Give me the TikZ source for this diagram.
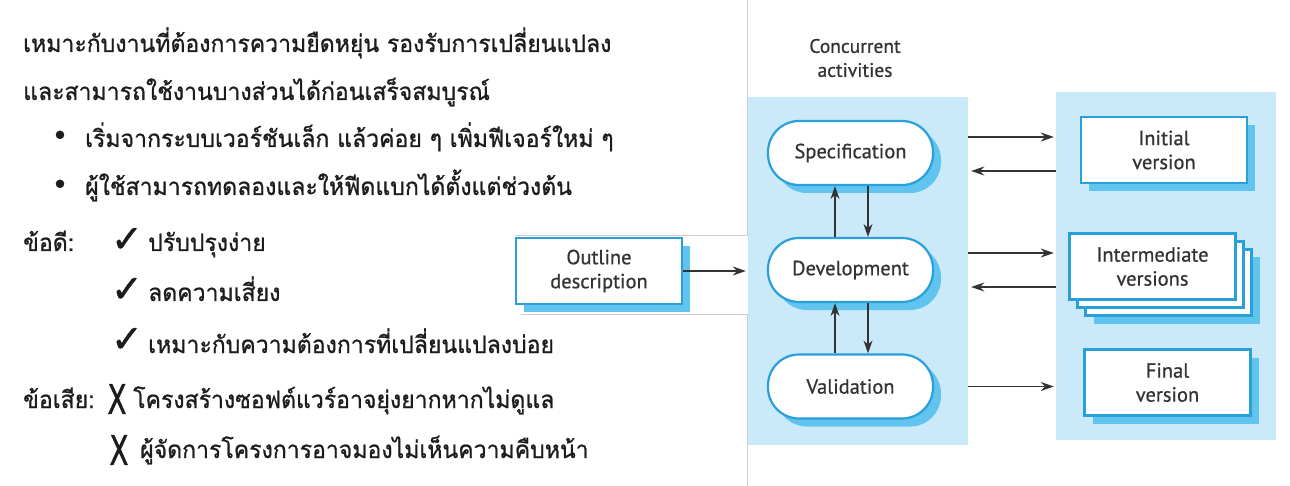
\documentclass[tikz,border=0pt]{standalone}
\usepackage{fontspec}
\usepackage{graphicx}
\setmainfont{PT Sans}[FakeBold=0.7]
\newfontfamily\thaifont[Script=Thai,FakeStretch=0.96,FakeBold=0.9]{Loma}
\newfontfamily\symfont[FakeBold=1.2]{DejaVu Sans}
\usetikzlibrary{calc}
\usetikzlibrary{arrows.meta}
\usetikzlibrary{shadows}
\definecolor{panelblue}{RGB}{202,233,249}
\definecolor{lineblue}{RGB}{41,160,218}
\definecolor{shadeblue}{RGB}{96,196,238}
\definecolor{inkgray}{RGB}{51,51,51}
\definecolor{framegray}{RGB}{205,205,205}
\definecolor{thaiink}{RGB}{28,28,28}

\begin{document}
\begin{tikzpicture}[x=1pt,y=-1pt,
    thai/.style={anchor=base west,inner sep=0pt,text=thaiink,font=\thaifont\fontsize{24}{28}\selectfont},
    tick/.style={inner sep=0pt,text=thaiink,font=\symfont\fontsize{38}{38}\selectfont},
    cross/.style={inner sep=0pt,text=thaiink,font=\symfont\fontsize{41}{41}\selectfont},
    bulletdot/.style={inner sep=0pt,text=thaiink,font=\symfont\fontsize{28}{28}\selectfont},
    panel/.style={fill=panelblue,inner sep=0pt,minimum width=220pt,minimum height=348pt},
    boxbase/.style={draw=lineblue,line width=2.2pt,fill=white,align=center,text=inkgray,
      font=\fontsize{20.5}{24}\selectfont,minimum width=166pt,minimum height=66pt},
    activity/.style={boxbase,rounded corners=31pt,minimum width=165pt,minimum height=64pt,
      drop shadow={shadow xshift=8pt,shadow yshift=-8pt,fill=shadeblue,opacity=1}},
    version/.style={boxbase,
      drop shadow={shadow xshift=8pt,shadow yshift=-8pt,fill=shadeblue,opacity=1}},
    stacked/.style={boxbase,
      drop shadow={shadow xshift=24pt,shadow yshift=-24pt,fill=shadeblue,opacity=1},
      copy shadow={shadow xshift=16pt,shadow yshift=-16pt,draw=lineblue,fill=white,line width=2.2pt},
      copy shadow={shadow xshift=8pt,shadow yshift=-8pt,draw=lineblue,fill=white,line width=2.2pt}},
    flow/.style={->,line width=1.3pt,inkgray}]
  \useasboundingbox (0,0) rectangle (1290,486);
  \begin{scope}[>={Stealth[length=13pt,width=9pt]}] %filled arrow tips

    % defines
    \pgfmathsetmacro\TextX{23}   % left text column
    \pgfmathsetmacro\ItemX{85}   % bullet text
    \pgfmathsetmacro\ProX{148}   % text after the ticks
    \pgfmathsetmacro\ActX{850.5} % concurrent activities column

    % left side: thai notes
    \node (intro1) at (\TextX,52) [thai] {เหมาะกับงานที่ต้องการความยืดหยุ่น รองรับการเปลี่ยนแปลง};
    \node (intro2) at (\TextX,100) [thai] {และสามารถใช้งานบางส่วนได้ก่อนเสร็จสมบูรณ์};
    \node (dot1) at (60,138) [bulletdot] {•};
    \node (item1) at (\ItemX,147) [thai] {เริ่มจากระบบเวอร์ชันเล็ก แล้วค่อย ๆ เพิ่มฟีเจอร์ใหม่ ๆ};
    \node (dot2) at (60,187) [bulletdot] {•};
    \node (item2) at (\ItemX,195) [thai] {ผู้ใช้สามารถทดลองและให้ฟีดแบกได้ตั้งแต่ช่วงต้น};

    \node (pros) at (\TextX,251) [thai] {ข้อดี:};
    \node (tick1) at (127,240) [tick] {✓};
    \node (pro1) at (\ProX,251) [thai] {ปรับปรุงง่าย};
    \node (tick2) at (127,290) [tick] {✓};
    \node (pro2) at (\ProX,301) [thai] {ลดความเสี่ยง};
    \node (tick3) at (127,340) [tick] {✓};
    \node (pro3) at (\ProX,353) [thai] {เหมาะกับความต้องการที่เปลี่ยนแปลงบ่อย};

    \node (cons) at (\TextX,408) [thai] {ข้อเสีย:};
    \node (cross1) at (117,399) [cross] {\scalebox{0.68}[1]{X}};
    \node (con1) at (133,408) [thai] {โครงสร้างซอฟต์แวร์อาจยุ่งยากหากไม่ดูแล};
    \node (cross2) at (119,450) [cross] {\scalebox{0.68}[1]{X}};
    \node (con2) at (140,458) [thai] {ผู้จัดการโครงการอาจมองไม่เห็นความคืบหน้า};

    % right side: panels and frame of the pasted figure
    \node (act) at (858,271) [panel] {};
    \node (ver) at (1166,266) [panel] {};
    \draw[framegray,line width=1pt] (747,0) -- (747,236) -- (515,236);
    \draw[framegray,line width=1pt] (521,314) -- (747,314) -- (747,486);

    \node (conc) at (855,58) [align=center,text=inkgray,font=\fontsize{19.5}{24}\selectfont] {Concurrent\\activities};

    % activities
    \node (spec) at (\ActX,153) [activity] {Specification};
    \node (dev) at (\ActX,270) [activity] {Development};
    \node (val) at (\ActX,386.5) [activity] {Validation};

    % versions
    \node (init) at (1164,150) [version] {Initial\\version};
    \node (inter) at (1152.5,266.5) [stacked] {Intermediate\\versions};
    \node (final) at (1167.5,382.5) [version] {Final\\version};
    \node (outline) at (599,271) [version] {Outline\\description};

    % connections
    \draw[flow] (outline) -- ($(act.west |- outline)+(-2,0)$);
    \draw[flow] ([xshift=-15.5pt]dev.north) -- ([xshift=-15.5pt]spec.south);
    \draw[flow] ([xshift=17.5pt]spec.south) -- ([xshift=17.5pt]dev.north);
    \draw[flow] ([xshift=-15.5pt]val.north) -- ([xshift=-15.5pt]dev.south);
    \draw[flow] ([xshift=17.5pt]dev.south) -- ([xshift=17.5pt]val.north);

    \draw[flow] ($(act.east |- spec)+(0,-16)$) -- ($(ver.west |- spec)+(-2,-16)$);
    \draw[flow] ($(ver.west |- spec)+(0,18)$) -- ($(act.east |- spec)+(3,18)$);
    \draw[flow] ($(act.east |- dev)+(0,-17)$) -- ($(ver.west |- dev)+(-2,-17)$);
    \draw[flow] ($(ver.west |- dev)+(0,17)$) -- ($(act.east |- dev)+(3,17)$);
    \draw[flow] (act.east |- val) -- ($(ver.west |- val)+(-2,0)$);

  \end{scope}
\end{tikzpicture}
\end{document}
